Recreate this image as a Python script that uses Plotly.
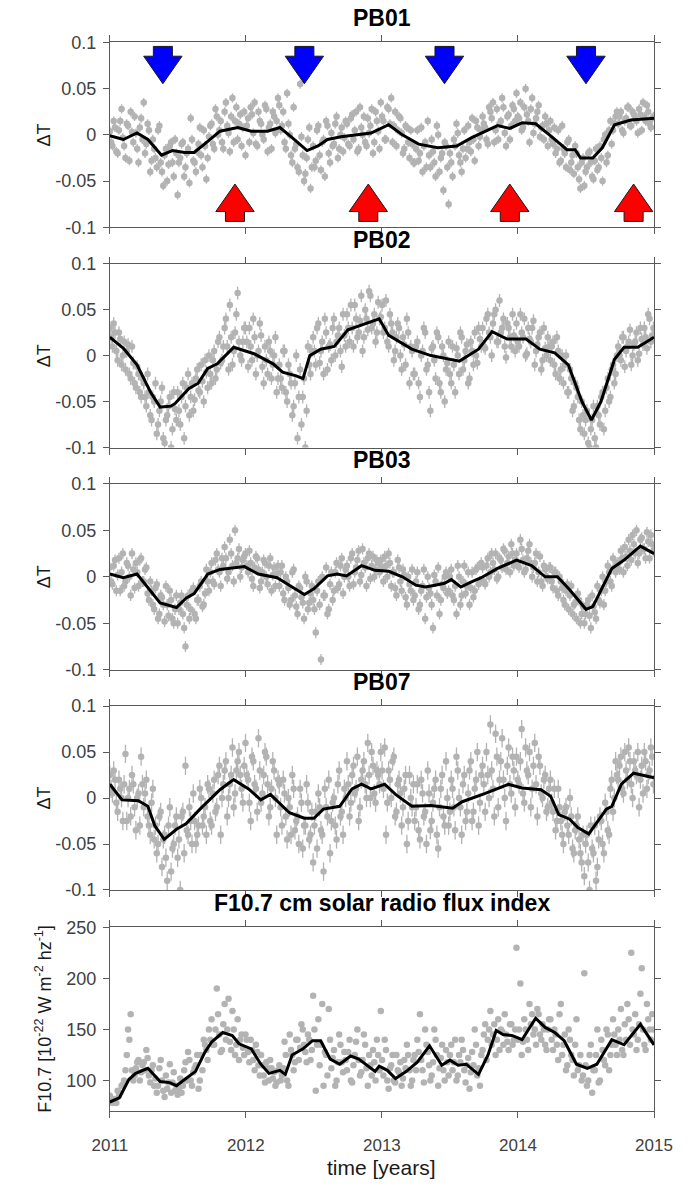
import plotly.graph_objects as go
import pandas as pd

# ---------------- DATA ----------------
# weekly sampling grids of the scatter data (two interleaved sets, 2011.0 .. 2015.0)
week_dates_a = pd.date_range("2011-01-01", periods=209, freq="7D")
week_dates_b = pd.date_range("2011-01-04 12:00", periods=209, freq="7D")

pb01_pts_a = [
    0.004, -0.012, 0.008, -0.020, 0.015, -0.003, -0.025, 0.010, 0.025, -0.008, 0.002, -0.030, 0.018,
    0.035, -0.010, 0.005, -0.028, -0.015, -0.035, 0.010, -0.040, -0.022, -0.050, -0.012, -0.030, -0.005,
    -0.065, -0.025, -0.008, -0.035, -0.015, 0.018, -0.028, -0.040, -0.010, -0.022, 0.005, -0.048, -0.002,
    0.012, -0.015, 0.020, 0.005, -0.008, 0.025, 0.010, -0.018, 0.040, 0.015, -0.005, 0.022, 0.008,
    -0.022, 0.018, 0.030, 0.002, -0.010, 0.025, 0.012, -0.005, 0.028, 0.008, -0.015, 0.020, 0.015,
    0.032, 0.010, -0.008, 0.045, 0.000, -0.030, -0.015, -0.035, 0.055, -0.022, -0.042, -0.005, -0.058,
    -0.012, -0.028, 0.010, -0.038, -0.005, 0.015, -0.020, 0.002, -0.010, 0.020, -0.015, 0.008, -0.003,
    0.012, -0.012, 0.022, 0.005, -0.018, 0.030, 0.000, -0.008, 0.018, 0.010, -0.020, 0.025, 0.004,
    0.035, 0.015, -0.005, 0.028, 0.040, 0.010, -0.012, 0.020, 0.002, -0.015, 0.008, -0.025, -0.010,
    -0.030, 0.005, -0.020, -0.040, -0.008, 0.015, -0.035, -0.018, -0.045, 0.000, -0.025, -0.060, -0.012,
    -0.075, -0.030, -0.005, 0.012, -0.022, -0.040, 0.005, -0.015, -0.008, 0.018, -0.028, 0.008, -0.002,
    0.020, 0.008, -0.010, 0.025, 0.035, 0.005, -0.005, 0.015, 0.030, -0.012, 0.022, 0.010, 0.028,
    0.045, 0.018, 0.005, 0.030, 0.022, -0.008, 0.040, 0.012, 0.025, -0.002, 0.010, 0.020, -0.012,
    0.015, -0.010, -0.020, 0.005, -0.028, -0.015, -0.035, -0.005, -0.030, -0.042, -0.020, -0.048, -0.030,
    -0.055, -0.035, -0.018, -0.045, -0.028, -0.038, -0.012, -0.050, 0.000, -0.022, 0.015, 0.005, 0.020,
    0.012, 0.025, 0.002, 0.018, 0.030, 0.010, 0.022, 0.015, 0.028, 0.005, 0.020, 0.032, 0.012, 0.018,
]
pb01_pts_b = [
    -0.008, 0.015, -0.018, 0.005, 0.028, -0.012, 0.012, -0.028, 0.003, 0.020, -0.015, 0.008, -0.005,
    -0.020, 0.012, -0.040, -0.005, -0.025, 0.005, -0.030, -0.055, -0.015, -0.032, -0.008, -0.045, -0.020,
    -0.030, -0.010, -0.045, -0.020, -0.052, -0.005, -0.030, -0.018, 0.008, -0.035, -0.012, -0.025, 0.010,
    -0.010, 0.028, 0.000, 0.015, -0.015, 0.035, 0.002, 0.020, -0.008, 0.030, 0.012, -0.012, 0.025,
    0.010, -0.008, 0.022, 0.035, -0.012, 0.015, 0.000, 0.032, -0.018, 0.012, 0.025, 0.002, 0.040,
    0.005, 0.025, -0.015, 0.012, -0.022, 0.030, -0.010, -0.040, -0.002, -0.050, -0.025, 0.008, -0.035,
    -0.035, 0.005, -0.022, -0.008, -0.045, 0.010, -0.030, -0.012, 0.012, -0.025, 0.000, -0.018, 0.015,
    -0.010, 0.018, -0.005, 0.025, -0.015, 0.008, 0.020, -0.012, 0.002, 0.028, -0.008, 0.015, -0.015,
    0.020, -0.005, 0.030, 0.012, -0.008, 0.025, 0.005, 0.018, -0.020, 0.010, -0.008, 0.005, -0.030,
    -0.015, -0.028, 0.008, -0.012, -0.035, -0.022, -0.005, -0.030, 0.010, -0.040, -0.020, -0.008, -0.035,
    -0.020, -0.045, -0.012, 0.002, -0.030, -0.015, -0.025, 0.010, -0.018, -0.005, 0.015, -0.012, 0.005,
    0.012, -0.005, 0.030, 0.018, -0.008, 0.028, 0.012, 0.040, 0.002, 0.020, -0.005, 0.032, 0.015,
    0.020, 0.035, 0.008, 0.050, 0.015, 0.028, 0.002, 0.018, 0.032, 0.008, -0.005, 0.012, 0.005,
    -0.005, 0.008, -0.015, -0.030, 0.010, -0.020, -0.008, -0.038, -0.022, -0.012, -0.035, -0.058, -0.025,
    -0.040, -0.020, -0.030, -0.048, -0.015, -0.035, -0.025, -0.005, -0.030, 0.005, -0.010, 0.012, 0.025,
    0.020, 0.005, 0.015, 0.030, 0.010, 0.025, 0.018, 0.002, 0.022, 0.035, 0.015, 0.025, 0.008, 0.020,
]
pb02_pts_a = [
    0.030, 0.010, 0.025, -0.005, 0.018, 0.000, -0.015, 0.012, -0.025, -0.008, -0.035, -0.020, -0.045,
    -0.030, -0.055, -0.040, -0.070, -0.050, -0.085, -0.060, -0.035, -0.095, -0.065, -0.045, -0.080, -0.058,
    -0.040, -0.075, -0.030, -0.055, -0.020, -0.045, -0.060, -0.025, -0.038, -0.010, -0.050, -0.018, 0.000,
    -0.030, 0.005, -0.015, 0.020, -0.005, 0.030, 0.010, 0.055, -0.010, 0.025, 0.068, 0.000, 0.015,
    0.030, -0.012, 0.010, 0.040, -0.020, 0.005, 0.022, -0.030, -0.005, 0.015, -0.025, 0.000, -0.040,
    -0.010, -0.035, 0.005, -0.050, -0.020, -0.065, -0.030, -0.090, -0.015, -0.045, -0.100, 0.010, -0.020,
    0.020, -0.010, 0.035, 0.005, -0.020, 0.025, 0.010, -0.005, 0.040, 0.015, 0.030, -0.012, 0.022,
    0.045, 0.015, 0.030, 0.055, 0.020, 0.038, 0.005, 0.050, 0.028, 0.065, 0.035, 0.015, 0.058,
    0.042, 0.025, 0.060, 0.010, 0.035, -0.005, 0.020, 0.030, -0.015, 0.012, 0.040, -0.030, 0.005,
    -0.020, 0.015, -0.045, 0.005, 0.025, -0.010, -0.060, 0.010, -0.025, 0.020, -0.040, 0.000, -0.015,
    0.015, -0.030, -0.010, 0.008, -0.020, 0.020, -0.005, 0.012, -0.025, 0.005, 0.025, -0.008, 0.018,
    0.030, 0.008, 0.045, 0.020, 0.035, 0.050, 0.015, 0.025, 0.040, -0.002, 0.030, 0.010, 0.022,
    0.035, 0.010, 0.025, 0.040, 0.002, 0.018, 0.030, -0.010, 0.012, 0.025, -0.005, 0.008, 0.020,
    -0.005, 0.015, -0.020, 0.005, -0.015, -0.030, 0.000, -0.040, -0.025, -0.055, -0.035, -0.070, -0.050,
    -0.085, -0.060, -0.100, -0.070, -0.090, -0.055, -0.075, -0.040, -0.060, -0.025, -0.045, -0.010, -0.020,
    0.010, -0.005, 0.020, 0.005, 0.015, -0.010, 0.012, 0.025, 0.002, 0.018, 0.030, 0.008, 0.040, 0.022,
]
pb02_pts_b = [
    0.020, 0.035, 0.005, 0.025, -0.010, 0.015, 0.005, -0.020, 0.010, -0.030, -0.012, -0.040, -0.025,
    -0.045, -0.020, -0.065, -0.045, -0.030, -0.075, -0.050, -0.090, -0.070, -0.055, -0.100, -0.040, -0.070,
    -0.060, -0.045, -0.090, -0.035, -0.065, -0.030, -0.048, -0.015, -0.040, -0.028, -0.005, -0.035, -0.020,
    -0.005, -0.025, 0.015, -0.008, 0.010, 0.040, -0.015, 0.020, 0.005, 0.045, 0.015, -0.005, 0.030,
    0.015, 0.030, -0.005, 0.020, 0.000, 0.035, -0.012, 0.010, -0.020, 0.005, -0.010, 0.020, -0.025,
    -0.025, 0.005, -0.040, -0.010, -0.030, -0.055, 0.000, -0.045, -0.075, -0.025, -0.060, -0.010, 0.005,
    0.005, 0.030, -0.008, 0.015, 0.040, -0.015, 0.012, 0.030, 0.000, 0.022, 0.005, 0.045, 0.010,
    0.030, 0.055, 0.010, 0.040, 0.025, 0.065, 0.020, 0.040, 0.070, 0.030, 0.045, 0.025, 0.040,
    0.055, 0.030, 0.015, 0.045, 0.025, 0.005, 0.035, 0.000, 0.020, -0.010, 0.025, 0.010, -0.020,
    0.010, -0.030, 0.000, 0.030, -0.015, -0.040, 0.008, -0.005, 0.025, -0.030, 0.010, -0.050, -0.008,
    -0.020, 0.010, -0.040, 0.000, 0.025, -0.015, 0.005, -0.030, 0.015, -0.010, 0.000, 0.030, 0.010,
    0.010, 0.040, 0.025, 0.000, 0.045, 0.015, 0.060, 0.030, 0.010, 0.035, 0.020, 0.045, 0.005,
    0.015, 0.045, 0.020, 0.000, 0.030, 0.015, 0.038, 0.005, 0.020, -0.015, 0.030, 0.000, 0.010,
    0.010, -0.010, 0.020, -0.025, 0.000, -0.010, -0.040, -0.015, -0.060, -0.030, -0.045, -0.080, -0.065,
    -0.070, -0.095, -0.080, -0.055, -0.100, -0.065, -0.045, -0.080, -0.035, -0.050, -0.015, -0.030, 0.000,
    0.000, 0.020, -0.012, 0.010, 0.028, 0.000, 0.015, -0.005, 0.030, 0.012, 0.020, 0.045, 0.015, 0.030,
]
pb03_pts_a = [
    0.010, -0.008, 0.018, 0.002, -0.015, 0.025, -0.005, 0.012, -0.020, 0.008, 0.015, -0.010, 0.020,
    -0.005, 0.010, -0.025, -0.015, -0.035, -0.008, -0.040, -0.022, -0.048, -0.030, -0.015, -0.045, -0.035,
    -0.050, -0.028, -0.040, -0.075, -0.020, -0.035, -0.012, -0.045, -0.025, -0.005, -0.030, 0.008, -0.015,
    0.015, -0.008, 0.025, 0.005, 0.020, 0.032, -0.002, 0.040, 0.012, 0.050, 0.020, 0.000, 0.018,
    0.025, 0.005, 0.015, -0.010, 0.022, 0.008, -0.005, 0.018, 0.000, 0.012, -0.015, 0.010, 0.003,
    -0.010, 0.012, -0.025, -0.005, -0.030, 0.005, -0.020, -0.040, -0.012, -0.028, 0.000, -0.035, -0.018,
    -0.025, -0.060, -0.005, -0.089, -0.020, 0.010, -0.035, 0.005, -0.015, 0.015, -0.008, 0.020, 0.000,
    0.012, -0.010, 0.025, 0.005, 0.018, -0.005, 0.030, 0.010, 0.020, -0.002, 0.022, 0.008, 0.015,
    0.018, -0.005, 0.012, 0.025, -0.010, 0.005, -0.020, 0.010, -0.015, 0.002, -0.030, -0.008, 0.008,
    -0.020, 0.005, -0.030, -0.010, -0.045, 0.000, -0.018, -0.055, -0.005, 0.010, -0.025, -0.012, 0.005,
    -0.015, 0.008, -0.025, -0.040, 0.000, -0.020, 0.012, -0.010, -0.030, 0.005, -0.015, 0.010, -0.005,
    0.010, -0.008, 0.020, 0.005, 0.015, 0.025, 0.000, 0.018, 0.030, 0.008, 0.022, 0.035, 0.012,
    0.025, 0.010, 0.030, 0.005, 0.020, 0.035, 0.000, 0.015, -0.005, 0.022, -0.010, 0.008, -0.002,
    0.010, -0.012, 0.005, -0.020, -0.005, -0.025, -0.015, -0.035, -0.010, -0.030, -0.045, -0.025, -0.040,
    -0.050, -0.030, -0.042, -0.020, -0.038, -0.010, -0.028, 0.000, -0.015, 0.012, -0.005, 0.020, 0.005,
    0.015, 0.028, 0.005, 0.022, 0.040, 0.018, 0.035, 0.050, 0.025, 0.042, 0.030, 0.048, 0.020, 0.035,
]
pb03_pts_b = [
    -0.005, 0.012, -0.015, 0.020, 0.005, -0.010, 0.015, 0.000, 0.025, -0.012, 0.005, 0.018, -0.005,
    0.008, -0.018, -0.005, -0.030, -0.012, -0.045, -0.020, -0.030, -0.010, -0.042, -0.025, -0.050, -0.020,
    -0.035, -0.020, -0.055, -0.030, -0.045, -0.015, -0.040, -0.025, -0.010, -0.032, -0.018, -0.005, 0.005,
    -0.005, 0.018, 0.008, -0.010, 0.012, 0.020, 0.005, 0.025, -0.005, 0.015, 0.030, 0.010, 0.022,
    0.012, 0.028, -0.002, 0.010, 0.020, -0.012, 0.005, 0.015, -0.008, 0.020, 0.002, -0.010, 0.012,
    0.005, -0.018, 0.000, -0.012, -0.025, 0.008, -0.032, -0.010, -0.022, -0.045, -0.005, -0.028, -0.010,
    -0.035, -0.015, -0.030, 0.000, -0.020, -0.040, -0.008, -0.025, 0.005, -0.012, 0.012, -0.018, 0.008,
    0.000, 0.020, -0.008, 0.010, 0.028, 0.002, 0.015, -0.010, 0.025, 0.012, 0.000, 0.018, 0.005,
    0.010, 0.022, 0.000, 0.015, 0.005, -0.012, 0.018, -0.005, 0.008, -0.022, 0.000, -0.015, -0.025,
    -0.005, -0.035, -0.015, 0.008, -0.022, -0.012, -0.030, 0.002, -0.020, -0.040, -0.008, 0.000, -0.018,
    0.000, -0.020, -0.010, 0.012, -0.030, -0.005, -0.018, 0.005, -0.012, -0.022, 0.008, -0.008, 0.015,
    -0.005, 0.012, 0.000, 0.025, 0.008, -0.002, 0.020, 0.010, 0.028, 0.015, 0.005, 0.025, 0.018,
    0.015, 0.040, 0.018, 0.008, 0.028, 0.015, 0.010, 0.025, 0.005, -0.005, 0.012, 0.000, 0.010,
    -0.005, 0.005, -0.015, 0.000, -0.012, -0.030, -0.008, -0.020, -0.040, -0.028, -0.018, -0.050, -0.032,
    -0.040, -0.025, -0.055, -0.032, -0.045, -0.025, -0.015, -0.030, -0.005, 0.005, -0.010, 0.010, 0.015,
    0.008, 0.020, 0.032, 0.012, 0.028, 0.045, 0.025, 0.015, 0.040, 0.030, 0.020, 0.038, 0.045, 0.028,
]
pb07_pts_a = [
    0.025, 0.005, 0.020, -0.015, 0.010, -0.025, 0.048, 0.000, -0.020, 0.015, -0.035, 0.005, 0.045,
    -0.010, 0.020, -0.030, -0.005, -0.045, -0.060, -0.020, -0.075, -0.040, -0.090, -0.010, -0.055, -0.030,
    -0.065, -0.100, -0.015, 0.035, -0.040, -0.025, 0.005, -0.050, -0.030, 0.000, -0.020, -0.040, 0.010,
    -0.030, 0.020, -0.010, 0.035, 0.000, 0.030, -0.020, 0.015, 0.055, 0.005, 0.040, 0.025, -0.005,
    0.060, 0.020, -0.025, 0.040, 0.010, 0.065, -0.005, 0.025, 0.045, -0.020, 0.010, 0.030, -0.040,
    0.015, -0.030, 0.005, -0.045, -0.010, 0.025, -0.035, -0.020, 0.010, -0.055, -0.030, -0.005, -0.040,
    -0.070, -0.015, 0.005, -0.035, -0.080, -0.010, 0.020, -0.025, 0.000, -0.045, 0.030, -0.015, 0.010,
    0.040, -0.020, 0.025, 0.005, 0.045, -0.010, 0.030, 0.015, 0.060, 0.000, 0.035, -0.005, 0.025,
    0.050, 0.010, -0.040, 0.030, 0.000, 0.045, -0.015, 0.020, -0.030, 0.010, -0.050, 0.025, -0.010,
    -0.025, 0.015, -0.045, 0.005, -0.015, 0.030, -0.035, -0.005, 0.020, -0.055, 0.010, -0.020, 0.040,
    -0.030, 0.020, -0.010, 0.045, 0.000, -0.040, 0.025, -0.015, 0.030, -0.025, 0.010, 0.050, -0.005,
    0.035, -0.015, 0.025, 0.080, 0.010, 0.070, -0.010, 0.040, 0.020, -0.025, 0.055, 0.005, 0.030,
    0.045, 0.015, 0.075, -0.005, 0.030, 0.050, 0.010, 0.060, -0.020, 0.035, 0.000, 0.025, -0.010,
    0.020, -0.015, -0.035, 0.010, -0.025, -0.050, -0.010, -0.040, -0.020, -0.060, -0.030, -0.045, -0.070,
    -0.085, -0.040, -0.100, -0.055, -0.030, -0.075, -0.020, -0.050, -0.005, -0.035, 0.010, -0.015, 0.040,
    0.020, 0.045, 0.005, 0.030, 0.055, 0.015, 0.040, 0.025, -0.010, 0.035, 0.050, 0.010, 0.030, 0.045,
]
pb07_pts_b = [
    0.010, 0.030, -0.005, 0.020, 0.000, 0.015, -0.025, 0.010, 0.025, -0.010, 0.000, -0.030, 0.015,
    0.005, -0.020, -0.040, 0.010, -0.030, -0.050, -0.015, -0.045, -0.065, -0.030, -0.080, -0.050, -0.020,
    -0.045, -0.020, -0.060, -0.035, -0.010, -0.050, -0.025, -0.040, 0.010, -0.030, -0.010, 0.015, -0.025,
    0.005, -0.015, 0.025, -0.040, 0.015, 0.040, 0.000, 0.025, -0.010, 0.030, 0.050, 0.010, 0.035,
    0.025, -0.005, 0.045, 0.015, -0.015, 0.030, 0.005, 0.050, 0.015, -0.010, 0.040, 0.000, 0.020,
    -0.010, 0.020, -0.020, 0.000, -0.040, 0.010, -0.025, -0.050, -0.005, -0.030, 0.015, -0.045, -0.015,
    -0.030, -0.055, -0.010, -0.040, 0.010, -0.020, -0.060, -0.005, -0.030, 0.015, -0.020, -0.040, 0.000,
    0.015, -0.005, 0.035, 0.010, -0.025, 0.020, 0.040, 0.000, 0.025, 0.050, 0.005, 0.030, 0.015,
    0.030, 0.055, -0.005, 0.020, 0.040, -0.020, 0.015, 0.005, -0.010, 0.025, -0.025, 0.000, 0.015,
    -0.010, -0.035, 0.020, -0.020, -0.050, 0.005, -0.025, 0.010, -0.040, -0.010, 0.025, -0.030, 0.000,
    -0.015, 0.010, -0.035, 0.030, -0.010, 0.015, -0.025, 0.005, 0.040, -0.015, 0.020, -0.030, 0.025,
    0.015, 0.050, 0.000, 0.030, -0.020, 0.045, 0.020, 0.065, 0.000, 0.035, 0.015, 0.045, -0.010,
    0.020, 0.040, 0.005, 0.055, 0.025, -0.010, 0.035, 0.015, 0.045, 0.005, 0.020, -0.015, 0.010,
    -0.005, 0.010, -0.025, -0.010, -0.040, -0.015, -0.030, 0.000, -0.055, -0.035, -0.020, -0.060, -0.040,
    -0.050, -0.070, -0.030, -0.060, -0.090, -0.045, -0.025, -0.060, -0.015, -0.040, 0.020, 0.000, 0.025,
    0.035, 0.010, 0.050, 0.020, 0.040, 0.000, 0.030, 0.050, 0.020, 0.005, 0.040, 0.025, 0.055, 0.015,
]
f107_pts_a = [
    85, 78, 80, 90, 88, 96, 110, 150, 165, 100, 112, 120, 108,
    118, 130, 105, 110, 95, 88, 112, 100, 84, 92, 116, 98, 90,
    86, 102, 95, 118, 128, 100, 108, 115, 92, 125, 140, 130, 150,
    160, 135, 190, 145, 130, 175, 150, 138, 168, 125, 160, 140, 132,
    145, 128, 140, 120, 135, 115, 125, 105, 118, 100, 112, 108, 98,
    115, 105, 138, 100, 145, 125, 118, 140, 132, 150, 128, 145, 120,
    183, 90, 160, 135, 95, 125, 170, 112, 130, 100, 145, 118, 128,
    110, 140, 98, 125, 150, 105, 120, 135, 95, 115, 130, 100, 125,
    168, 105, 130, 92, 115, 100, 125, 108, 95, 120, 135, 110, 100,
    125, 140, 165, 110, 150, 128, 100, 118, 140, 95, 122, 110, 130,
    105, 135, 118, 100, 125, 140, 110, 115, 92, 128, 150, 105, 95,
    130, 155, 140, 168, 145, 125, 160, 150, 135, 145, 130, 155, 140,
    230, 150, 125, 160, 140, 175, 165, 150, 170, 145, 155, 135, 150,
    160, 130, 145, 120, 175, 135, 110, 150, 125, 105, 160, 115, 100,
    205, 95, 125, 88, 110, 150, 100, 130, 115, 145, 125, 160, 135,
    150, 170, 125, 140, 160, 225, 145, 130, 155, 210, 135, 175, 150, 165,
]
f107_pts_b = [
    80, 82, 78, 85, 95, 100, 125, 140, 110, 105, 118, 100, 115,
    110, 122, 98, 115, 102, 95, 120, 90, 105, 98, 88, 108, 95,
    92, 88, 110, 100, 120, 95, 112, 125, 100, 110, 135, 120, 140,
    135, 150, 165, 128, 155, 140, 180, 130, 150, 135, 120, 145, 125,
    140, 118, 130, 110, 128, 105, 115, 98, 112, 120, 102, 95, 110,
    100, 112, 125, 95, 130, 110, 140, 120, 155, 135, 118, 140, 130,
    150, 135, 115, 175, 128, 105, 140, 122, 95, 118, 135, 108, 120,
    128, 100, 115, 138, 120, 108, 145, 112, 125, 105, 118, 140, 110,
    120, 140, 100, 112, 125, 98, 110, 118, 102, 112, 125, 95, 120,
    110, 128, 120, 98, 135, 115, 105, 150, 125, 112, 135, 100, 118,
    125, 110, 140, 105, 118, 130, 98, 122, 108, 115, 135, 112, 125,
    145, 120, 150, 135, 155, 140, 130, 148, 165, 138, 155, 135, 150,
    140, 195, 138, 150, 130, 155, 145, 135, 165, 140, 150, 130, 160,
    140, 150, 135, 165, 125, 145, 115, 140, 120, 135, 110, 125, 105,
    115, 100, 135, 110, 125, 98, 140, 120, 150, 110, 135, 145, 125,
    140, 130, 155, 175, 135, 150, 165, 140, 185, 150, 130, 160, 140, 150,
]

# smoothed curves (time in decimal years, value)
pb01_line_t = [2011.0, 2011.1, 2011.2, 2011.28, 2011.38, 2011.46, 2011.55, 2011.62, 2011.72, 2011.81,
               2011.94, 2012.04, 2012.16, 2012.25, 2012.34, 2012.45, 2012.53, 2012.6, 2012.7, 2012.8,
               2012.92, 2013.05, 2013.15, 2013.27, 2013.41, 2013.55, 2013.66, 2013.85, 2013.94, 2014.03,
               2014.13, 2014.24, 2014.36, 2014.42, 2014.46, 2014.55, 2014.62, 2014.71, 2014.83, 2015.0]
pb01_line_v = [-0.001, -0.005, 0.002, -0.005, -0.022, -0.017, -0.019, -0.019, -0.007, 0.004,
               0.008, 0.004, 0.004, 0.008, -0.003, -0.017, -0.012, -0.005, -0.002, 0.000,
               0.002, 0.011, 0.000, -0.010, -0.014, -0.012, -0.003, 0.010, 0.007, 0.013,
               0.012, -0.001, -0.016, -0.016, -0.025, -0.025, -0.014, 0.011, 0.016, 0.018]

pb02_line_t = [2011.0, 2011.1, 2011.2, 2011.3, 2011.37, 2011.45, 2011.48, 2011.58, 2011.65, 2011.72,
               2011.79, 2011.91, 2012.06, 2012.2, 2012.27, 2012.37, 2012.42, 2012.47, 2012.55, 2012.65,
               2012.75, 2012.85, 2012.98, 2013.05, 2013.22, 2013.36, 2013.57, 2013.71, 2013.81, 2013.92,
               2014.06, 2014.16, 2014.27, 2014.37, 2014.47, 2014.54, 2014.61, 2014.71, 2014.78, 2014.88, 2015.0]
pb02_line_v = [0.020, 0.008, -0.010, -0.040, -0.056, -0.055, -0.052, -0.036, -0.030, -0.014,
               -0.009, 0.009, 0.002, -0.009, -0.018, -0.022, -0.025, 0.000, 0.007, 0.010,
               0.028, 0.033, 0.040, 0.022, 0.007, 0.000, -0.006, 0.007, 0.026, 0.018,
               0.018, 0.007, 0.003, -0.010, -0.050, -0.070, -0.050, -0.004, 0.009, 0.009, 0.020]

pb03_line_t = [2011.0, 2011.1, 2011.2, 2011.32, 2011.37, 2011.49, 2011.56, 2011.62, 2011.72, 2011.81,
               2011.99, 2012.09, 2012.23, 2012.34, 2012.43, 2012.5, 2012.6, 2012.67, 2012.74, 2012.85,
               2012.95, 2013.05, 2013.15, 2013.25, 2013.32, 2013.39, 2013.46, 2013.51, 2013.58, 2013.65,
               2013.73, 2013.85, 2013.99, 2014.1, 2014.2, 2014.29, 2014.38, 2014.5, 2014.55, 2014.69,
               2014.78, 2014.9, 2015.0]
pb03_line_v = [0.003, -0.001, 0.003, -0.018, -0.028, -0.033, -0.023, -0.018, 0.003, 0.008,
               0.011, 0.003, -0.001, -0.011, -0.019, -0.013, 0.001, 0.003, 0.001, 0.012,
               0.007, 0.006, 0.000, -0.009, -0.011, -0.009, -0.007, -0.003, -0.011, -0.006,
               -0.001, 0.009, 0.018, 0.012, 0.000, 0.000, -0.014, -0.035, -0.032, 0.009,
               0.018, 0.033, 0.025]

pb07_line_t = [2011.0, 2011.09, 2011.21, 2011.28, 2011.33, 2011.4, 2011.49, 2011.56, 2011.67, 2011.81,
               2011.91, 2012.02, 2012.11, 2012.18, 2012.32, 2012.43, 2012.5, 2012.57, 2012.69, 2012.78,
               2012.85, 2012.92, 2013.02, 2013.1, 2013.22, 2013.36, 2013.52, 2013.59, 2013.76, 2013.93,
               2014.03, 2014.17, 2014.24, 2014.3, 2014.38, 2014.44, 2014.52, 2014.58, 2014.65, 2014.69,
               2014.76, 2014.85, 2015.0]
pb07_line_v = [0.015, -0.002, -0.003, -0.009, -0.030, -0.045, -0.034, -0.028, -0.011, 0.009,
               0.020, 0.010, -0.002, 0.004, -0.016, -0.022, -0.022, -0.012, -0.009, 0.010,
               0.015, 0.010, 0.015, 0.004, -0.009, -0.008, -0.011, -0.004, 0.005, 0.015,
               0.011, 0.009, 0.002, -0.018, -0.023, -0.032, -0.039, -0.027, -0.012, -0.009,
               0.015, 0.027, 0.022]

f107_line_t = [2011.0, 2011.07, 2011.14, 2011.19, 2011.28, 2011.37, 2011.44, 2011.49, 2011.56, 2011.63,
               2011.7, 2011.75, 2011.83, 2011.9, 2011.95, 2012.04, 2012.11, 2012.17, 2012.25, 2012.29,
               2012.34, 2012.42, 2012.49, 2012.55, 2012.62, 2012.69, 2012.77, 2012.83, 2012.95, 2012.98,
               2013.04, 2013.1, 2013.18, 2013.26, 2013.35, 2013.44, 2013.5, 2013.56, 2013.62, 2013.71,
               2013.78, 2013.84, 2013.89, 2013.96, 2014.03, 2014.13, 2014.2, 2014.27, 2014.34, 2014.43,
               2014.51, 2014.58, 2014.69, 2014.78, 2014.9, 2015.0]
f107_line_v = [79, 83, 101, 107, 112, 99, 98, 95, 102, 109,
               128, 138, 147, 144, 136, 131, 116, 107, 110, 106,
               125, 131, 139, 139, 121, 116, 124, 121, 109, 114,
               110, 102, 109, 118, 134, 115, 120, 115, 116, 106,
               125, 149, 145, 144, 140, 161, 152, 147, 139, 116,
               112, 116, 140, 135, 155, 135]

# measurement uncertainty (error bar half length) per station
pb_err = {"PB01": 0.005, "PB02": 0.007, "PB03": 0.006, "PB07": 0.010}

# arrow times in PB01 panel
blue_arrow_t = [2011.39, 2012.43, 2013.46, 2014.50]
red_arrow_t = [2011.92, 2012.90, 2013.94, 2014.85]

year_ticks = [2011, 2012, 2013, 2014, 2015]
dT_ticks = [-0.1, -0.05, 0, 0.05, 0.1]
dT_ticklabels = ["-0.1", "-0.05", "0", "0.05", "0.1"]
f107_ticks = [100, 150, 200, 250]
f107_ticklabels = ["100", "150", "200", "250"]

titles = ["PB01", "PB02", "PB03", "PB07", "F10.7 cm solar radio flux index"]

# ---------------- FIGURE ----------------
W, H = 691, 1191
X0, X1 = 97, 672
panels_px = [(33, 221), (258, 445), (482, 671), (708, 895), (933, 1120)]


def dec_year(dates):
    return [d.year + (d.dayofyear - 1 + d.hour / 24) / (366 if d.is_leap_year else 365) for d in dates]


t_a = dec_year(week_dates_a)
t_b = dec_year(week_dates_b)

GRAY = "#b3b3b3"
AXC = "#5a5a5a"
FONT = "Liberation Sans"

fig = go.Figure()

series = [
    (pb01_pts_a, pb01_pts_b, pb01_line_t, pb01_line_v, pb_err["PB01"]),
    (pb02_pts_a, pb02_pts_b, pb02_line_t, pb02_line_v, pb_err["PB02"]),
    (pb03_pts_a, pb03_pts_b, pb03_line_t, pb03_line_v, pb_err["PB03"]),
    (pb07_pts_a, pb07_pts_b, pb07_line_t, pb07_line_v, pb_err["PB07"]),
    (f107_pts_a, f107_pts_b, f107_line_t, f107_line_v, None),
]

for k, (pa, pb, lt, lv, err) in enumerate(series, start=1):
    xa = "x" if k == 1 else f"x{k}"
    ya = "y" if k == 1 else f"y{k}"
    for tt, pts in ((t_a, pa), (t_b, pb)):
        n = min(len(tt), len(pts))
        sc = dict(x=tt[:n], y=pts[:n], mode="markers", xaxis=xa, yaxis=ya,
                  marker=dict(color=GRAY, size=6.5, line=dict(width=0)), showlegend=False,
                  hoverinfo="skip")
        if err is not None:
            sc["error_y"] = dict(type="constant", value=err, color=GRAY, thickness=1.3, width=0)
        fig.add_trace(go.Scatter(**sc))
    fig.add_trace(go.Scatter(x=lt, y=lv, mode="lines", xaxis=xa, yaxis=ya,
                             line=dict(color="black", width=3), showlegend=False,
                             hoverinfo="skip"))

axis_common = dict(showline=True, linecolor=AXC, linewidth=1, mirror="ticks",
                   ticks="outside", ticklen=6, tickcolor=AXC, tickwidth=1,
                   showgrid=False, zeroline=False)

layout = dict(width=W, height=H, margin=dict(l=0, r=0, t=0, b=0),
              paper_bgcolor="white", plot_bgcolor="white", showlegend=False)

annotations = []
for k, (top, bot) in enumerate(panels_px, start=1):
    xkey = "xaxis" if k == 1 else f"xaxis{k}"
    ykey = "yaxis" if k == 1 else f"yaxis{k}"
    ya = "y" if k == 1 else f"y{k}"
    xa = "x" if k == 1 else f"x{k}"
    xd = dict(axis_common, domain=[X0 / W, X1 / W], range=[2011, 2015], anchor=ya,
              tickvals=year_ticks, ticktext=[str(v) for v in year_ticks],
              showticklabels=(k == 5), ticklabelstandoff=12,
              tickfont=dict(family=FONT, size=17, color="#404040"))
    yfont = dict(family=FONT, size=18, color="#404040")
    if k == 5:
        yd = dict(axis_common, domain=[1 - bot / H, 1 - top / H], range=[70, 250], anchor=xa,
                  tickvals=f107_ticks, ticktext=f107_ticklabels, ticklabelstandoff=3, tickfont=yfont)
    else:
        yd = dict(axis_common, domain=[1 - bot / H, 1 - top / H], range=[-0.1, 0.1], anchor=xa,
                  tickvals=dT_ticks, ticktext=dT_ticklabels, ticklabelstandoff=3, tickfont=yfont)
    layout[xkey] = xd
    layout[ykey] = yd
    # panel title
    annotations.append(dict(text=f"<b>{titles[k-1]}</b>", x=(X0 + X1) / 2 / W, xref="paper",
                            y=1 - (top - 24.5) / H, yref="paper", xanchor="center", yanchor="middle",
                            showarrow=False, font=dict(family=FONT, size=23, color="black")))
    # y label
    ylab = "ΔT" if k < 5 else "F10.7 [10<sup>-22</sup> W m<sup>-2</sup> hz<sup>-1</sup>]"
    annotations.append(dict(text=ylab, x=27 / W, xref="paper", y=1 - (top + bot) / 2 / H,
                            yref="paper", xanchor="center", yanchor="middle", textangle=-90,
                            showarrow=False, font=dict(family=FONT, size=18, color="#1a1a1a")))

annotations.append(dict(text="time [years]", x=(X0 + X1) / 2 / W, xref="paper", y=1 - 1177 / H,
                        yref="paper", xanchor="center", yanchor="middle", showarrow=False,
                        font=dict(family=FONT, size=21, color="#1a1a1a")))
layout["annotations"] = annotations

# arrows in PB01 panel (data coordinates)
SW, HW = 0.07, 0.141
shapes = []
for c in blue_arrow_t:
    top, base, tip = 0.0957, 0.0851, 0.0553
    path = (f"M {c-SW},{top} L {c+SW},{top} L {c+SW},{base} L {c+HW},{base} "
            f"L {c},{tip} L {c-HW},{base} L {c-SW},{base} Z")
    shapes.append(dict(type="path", path=path, xref="x", yref="y", fillcolor="#0000ff",
                       line=dict(color="#1a1a1a", width=1)))
for c in red_arrow_t:
    bottom, base, tip = -0.0936, -0.083, -0.0532
    path = (f"M {c-SW},{bottom} L {c+SW},{bottom} L {c+SW},{base} L {c+HW},{base} "
            f"L {c},{tip} L {c-HW},{base} L {c-SW},{base} Z")
    shapes.append(dict(type="path", path=path, xref="x", yref="y", fillcolor="#ff0000",
                       line=dict(color="#1a1a1a", width=1)))
layout["shapes"] = shapes

fig.update_layout(**layout)
fig.write_html("out.html")
